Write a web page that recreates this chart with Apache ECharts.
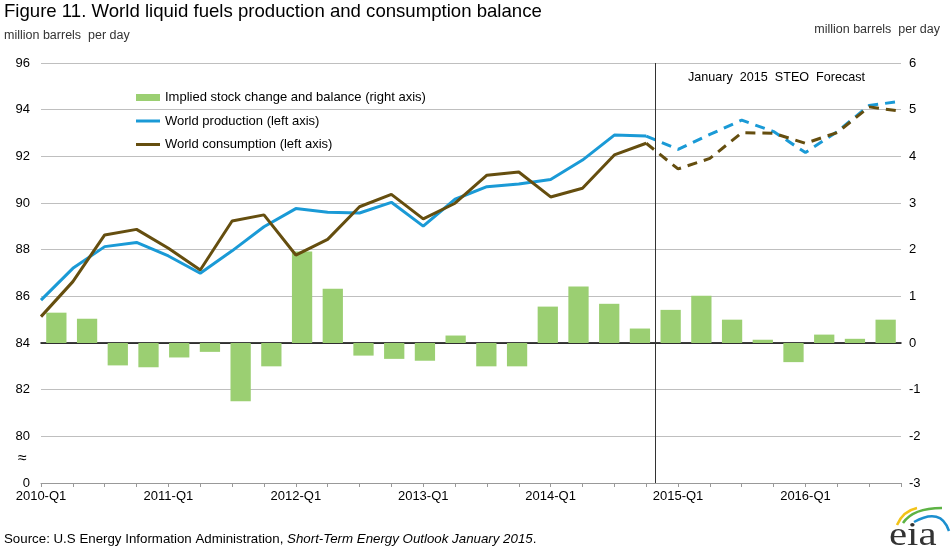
<!DOCTYPE html>
<html>
<head>
<meta charset="utf-8">
<script src="https://cdn.jsdelivr.net/npm/echarts@6/dist/echarts.min.js"></script>
<style>
  html, body { margin: 0; padding: 0; background: #fff; }
  #chart { width: 951px; height: 555px; }
</style>
</head>
<body>
<div id="chart"></div>
<script>
// quarters on the x axis
var quarters = [
    '2010-Q1', '2010-Q2', '2010-Q3', '2010-Q4',
    '2011-Q1', '2011-Q2', '2011-Q3', '2011-Q4',
    '2012-Q1', '2012-Q2', '2012-Q3', '2012-Q4',
    '2013-Q1', '2013-Q2', '2013-Q3', '2013-Q4',
    '2014-Q1', '2014-Q2', '2014-Q3', '2014-Q4',
    '2015-Q1', '2015-Q2', '2015-Q3', '2015-Q4',
    '2016-Q1', '2016-Q2', '2016-Q3', '2016-Q4'
];

// world production, million barrels per day (left axis)
var production = [
    85.84, 87.20, 88.13, 88.31, 87.73, 86.99, 87.95, 88.98,
    89.76, 89.60, 89.57, 90.03, 89.01, 90.16, 90.70, 90.81,
    91.01, 91.84, 92.91, 92.87, 92.30, 92.94, 93.55, 93.06,
    92.16, 93.06, 94.18, 94.36
];

// world consumption, million barrels per day (left axis)
var consumption = [
    85.13, 86.63, 88.63, 88.87, 88.06, 87.13, 89.23, 89.49,
    87.77, 88.44, 89.84, 90.37, 89.32, 89.99, 91.19, 91.33,
    90.26, 90.63, 92.06, 92.56, 91.46, 91.91, 93.01, 92.99,
    92.56, 93.02, 94.12, 93.93
];

// implied stock change and balance (right axis)
var stockChange = [
    0.65, 0.52, -0.48, -0.52, -0.31, -0.19, -1.25, -0.50,
    1.96, 1.16, -0.27, -0.34, -0.38, 0.16, -0.50, -0.50,
    0.78, 1.21, 0.84, 0.31, 0.71, 1.01, 0.50, 0.07,
    -0.41, 0.18, 0.09, 0.50
];

// first forecast quarter (index into quarters)
var forecastStart = 20;

var blue = '#1A9AD6';
var brown = '#654E0F';
var green = '#9BCF72';

function splitSeries(arr, solid) {
    var out = [];
    for (var i = 0; i < arr.length; i++) {
        if (solid) {
            out.push(i < forecastStart ? arr[i] : null);
        } else {
            out.push(i >= forecastStart - 1 ? arr[i] : null);
        }
    }
    return out;
}

var chart = echarts.init(document.getElementById('chart'));

var textFont = 'Liberation Sans, Arial, sans-serif';
// flat bar used as legend icon for the lines
var lineIcon = 'path://M0,0 L24,0 L24,3 L0,3 Z';

var option = {
    animation: false,
    textStyle: { fontFamily: textFont },
    grid: { left: 41, right: 50, top: 63, bottom: 72 },
    legend: {
        orient: 'vertical',
        left: 136,
        top: 91,
        padding: 0,
        itemWidth: 24,
        itemHeight: 7,
        itemGap: 10.5,
        symbolKeepAspect: true,
        textStyle: { fontSize: 13, color: '#000', fontFamily: textFont },
        data: [
            { name: 'Implied stock change and balance (right axis)', icon: 'rect' },
            { name: 'World production (left axis)', icon: lineIcon },
            { name: 'World consumption (left axis)', icon: lineIcon }
        ]
    },
    graphic: [
        {
            type: 'text', left: 4, top: 2,
            style: { text: 'Figure 11. World liquid fuels production and consumption balance',
                     font: '18.6px ' + textFont, fill: '#000' }
        },
        {
            type: 'text', left: 4, top: 29,
            style: { text: 'million barrels  per day', font: '12.5px ' + textFont, fill: '#333' }
        },
        {
            type: 'text', right: 11, top: 23,
            style: { text: 'million barrels  per day', font: '12.5px ' + textFont, fill: '#333' }
        },
        {
            type: 'text', left: 688, top: 71,
            style: { text: 'January  2015  STEO  Forecast', font: '12.6px ' + textFont, fill: '#000' }
        },
        {
            type: 'text', left: 18, top: 451,
            style: { text: '\u2248', font: '16px ' + textFont, fill: '#000' }
        },
        {
            type: 'text', left: 4, top: 533,
            style: {
                text: '{n|Source: U.S Energy Information Administration, }{i|Short-Term Energy Outlook January 2015}{n|.}',
                rich: {
                    n: { font: '13.3px ' + textFont, fill: '#000' },
                    i: { font: 'italic 13.3px ' + textFont, fill: '#000' }
                }
            }
        },
        // eia logo
        {
            type: 'bezierCurve',
            shape: { x1: 897, y1: 525, cpx1: 903, cpy1: 511, x2: 917, y2: 508 },
            style: { stroke: '#F2C318', lineWidth: 2.5, fill: null }
        },
        {
            type: 'bezierCurve',
            shape: { x1: 903, y1: 523, cpx1: 913, cpy1: 508, x2: 942, y2: 508 },
            style: { stroke: '#5DB344', lineWidth: 2.5, fill: null }
        },
        {
            type: 'bezierCurve',
            shape: { x1: 914, y1: 522, cpx1: 941, cpy1: 507, x2: 949, y2: 531 },
            style: { stroke: '#1C8FCF', lineWidth: 2.5, fill: null }
        },
        {
            type: 'text', left: 889, top: 519, scaleX: 1.2,
            style: { text: 'eia', font: '34px Liberation Serif, DejaVu Serif, serif', fill: '#333' }
        }
    ],
    xAxis: [
        {
            type: 'category',
            data: quarters,
            boundaryGap: false,
            position: 'bottom',
            axisLine: { onZero: false, lineStyle: { color: '#999', width: 1 } },
            axisTick: { show: true, interval: 0, length: 4, lineStyle: { color: '#999' } },
            axisLabel: { interval: 3, fontSize: 13, color: '#000', margin: 7 },
            splitLine: { show: false }
        },
        {
            type: 'category',
            data: quarters,
            boundaryGap: true,
            position: 'bottom',
            axisLine: { show: true, onZero: true, onZeroAxisIndex: 1,
                        lineStyle: { color: '#000', width: 1.5 } },
            axisTick: { show: false },
            axisLabel: { show: false },
            splitLine: { show: false }
        },
        {
            type: 'value',
            min: 0,
            max: quarters.length,
            show: false
        }
    ],
    yAxis: [
        {
            type: 'value',
            position: 'left',
            min: 78,
            max: 96,
            interval: 2,
            axisLine: { show: false },
            axisTick: { show: false },
            axisLabel: {
                fontSize: 13, color: '#000', margin: 11,
                formatter: function (v) { return v === 78 ? '0' : String(v); }
            },
            splitLine: { lineStyle: { color: '#BFBFBF', width: 1 } }
        },
        {
            type: 'value',
            position: 'right',
            min: -3,
            max: 6,
            interval: 1,
            axisLine: { show: false },
            axisTick: { show: false },
            axisLabel: { fontSize: 13, color: '#000', margin: 8 },
            splitLine: { show: false }
        }
    ],
    series: [
        {
            name: 'Implied stock change and balance (right axis)',
            type: 'bar',
            xAxisIndex: 1,
            yAxisIndex: 1,
            data: stockChange,
            barCategoryGap: '34%',
            itemStyle: { color: green },
            z: 1
        },
        {
            name: 'World production (left axis)',
            type: 'line',
            xAxisIndex: 0,
            yAxisIndex: 0,
            data: splitSeries(production, true),
            symbol: 'none',
            lineStyle: { color: blue, width: 3 },
            itemStyle: { color: blue },
            z: 3
        },
        {
            name: 'World consumption (left axis)',
            type: 'line',
            xAxisIndex: 0,
            yAxisIndex: 0,
            data: splitSeries(consumption, true),
            symbol: 'none',
            lineStyle: { color: brown, width: 3 },
            itemStyle: { color: brown },
            z: 4
        },
        {
            name: 'Production forecast',
            type: 'line',
            xAxisIndex: 0,
            yAxisIndex: 0,
            data: splitSeries(production, false),
            symbol: 'none',
            lineStyle: { color: blue, width: 3, type: [10, 7] },
            z: 3
        },
        {
            name: 'Consumption forecast',
            type: 'line',
            xAxisIndex: 0,
            yAxisIndex: 0,
            data: splitSeries(consumption, false),
            symbol: 'none',
            lineStyle: { color: brown, width: 3, type: [10, 7] },
            z: 4
        },
        {
            name: 'Forecast divider',
            type: 'line',
            xAxisIndex: 2,
            yAxisIndex: 1,
            data: [],
            markLine: {
                silent: true,
                symbol: ['none', 'none'],
                label: { show: false },
                lineStyle: { color: '#333', width: 1, type: 'solid' },
                data: [{ xAxis: forecastStart }]
            },
            z: 5
        }
    ]
};

chart.setOption(option);
</script>
</body>
</html>
